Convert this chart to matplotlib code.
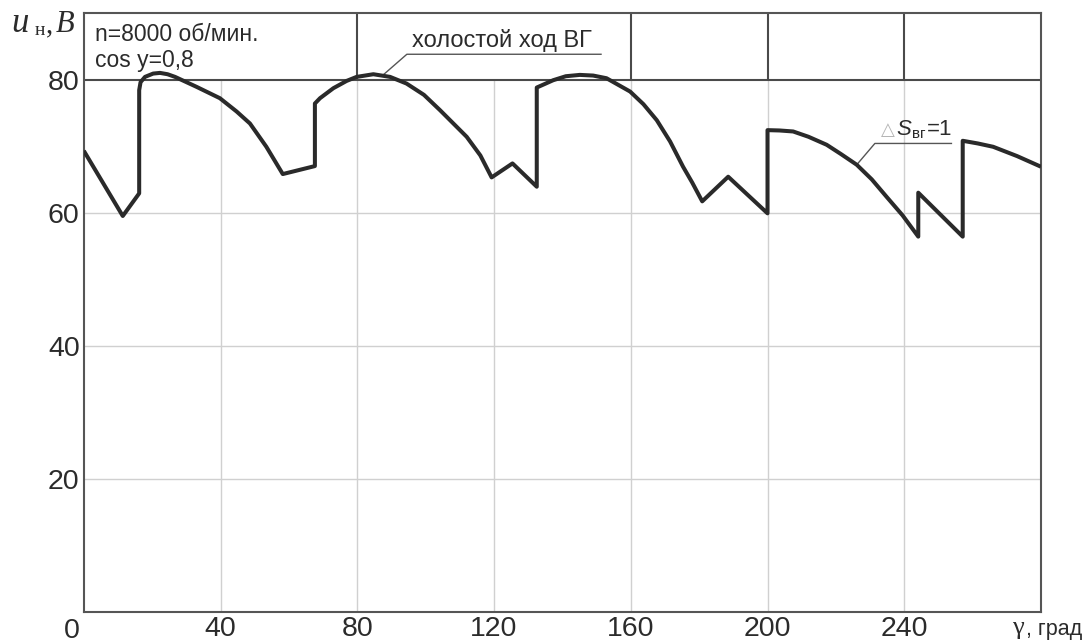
import matplotlib
matplotlib.use("Agg")
import matplotlib.pyplot as plt

# ---- data ----
gamma = [0, 11.4, 16.2, 16.2, 16.6, 17.9, 20.3, 22.3, 24.5, 26.7, 33.0, 39.8, 44.7, 48.6,
         53.4, 58.2, 67.6, 67.6, 69.1, 73.0, 76.9, 79.8, 84.7, 89.6, 94.4, 99.5,
         104.2, 112.0, 116.0, 119.3, 125.4, 132.5, 132.5, 137.3, 141.0, 145.1, 149.0,
         152.9, 159.8, 163.7, 167.6, 171.5, 175.3, 178.0, 180.9, 188.5, 200.0, 200.0,
         203.5, 207.5, 212.0, 217.3, 221.5, 226.1, 230.5, 234.8, 239.5, 244.1, 244.1,
         257.1, 257.1, 261.5, 266.0, 273.0, 280.0]
u_n = [69.3, 59.5, 62.9, 78.4, 79.6, 80.4, 80.9, 81.0, 80.8, 80.4, 78.9, 77.2, 75.2, 73.4,
       69.9, 65.8, 67.0, 76.4, 77.2, 78.7, 79.8, 80.4, 80.8, 80.4, 79.4, 77.7,
       75.4, 71.4, 68.6, 65.3, 67.4, 63.9, 78.8, 79.9, 80.5, 80.7, 80.6,
       80.2, 78.2, 76.3, 73.9, 70.7, 66.9, 64.5, 61.7, 65.4, 59.9, 72.4,
       72.35, 72.2, 71.4, 70.2, 68.8, 67.2, 65.0, 62.4, 59.6, 56.4, 63.0,
       56.4, 70.8, 70.4, 69.9, 68.5, 66.9]

x_ticks = [40, 80, 120, 160, 200, 240]
y_ticks = [20, 40, 60, 80]
table_cols = [80, 160, 200, 240]
x_max, y_max, table_y = 280, 90, 80

W, H = 1086, 642
SANS = "Liberation Sans"
SERIF = "Liberation Serif"
TXT = "#2b2b2b"

fig = plt.figure(figsize=(W / 100, H / 100), dpi=100)
ax = fig.add_axes([83.8 / W, 1 - 612 / H, (1041 - 83.8) / W, (612 - 13) / H])
ax.set_xlim(0, x_max)
ax.set_ylim(0, y_max)


def px(x, y):
    return x / W, 1 - y / H


# grid (below the table line only)
ax.vlines(x_ticks, 0, table_y, color="#d0d0d0", lw=1, zorder=1)
ax.hlines([t for t in y_ticks if t < table_y], 0, x_max, color="#d0d0d0", lw=1, zorder=1)
# table row
ax.axhline(table_y, color="#4a4a4a", lw=1.5, zorder=2)
ax.vlines(table_cols, table_y, y_max, color="#4a4a4a", lw=1.5, zorder=2)

ax.plot(gamma, u_n, color="#2a2a2a", lw=2.9, solid_joinstyle="round",
        solid_capstyle="butt", zorder=3)

for s in ax.spines.values():
    s.set_color("#555555")
    s.set_linewidth(1.5)

ax.set_xticks(x_ticks)
ax.set_yticks(y_ticks)
ax.tick_params(length=0, labelsize=20.5, labelcolor=TXT)
ax.tick_params(axis="x", pad=3)
ax.tick_params(axis="y", pad=3)
for lab in ax.get_xticklabels() + ax.get_yticklabels():
    lab.set_family(SANS)

# origin label
fig.text(*px(72, 638), "0", fontsize=20.5, family=SANS, color=TXT, ha="center", va="baseline")

# axis labels
fig.text(*px(1082, 635), ", град", fontsize=15.5, family=SANS, color=TXT, ha="right", va="baseline")
fig.text(*px(1012, 634), "γ", fontsize=19, family=SERIF, color=TXT, ha="left", va="baseline")

fig.text(*px(11, 32), "u", fontsize=25, family=SERIF, style="italic", color=TXT, va="baseline")
fig.text(*px(35, 35), "н", fontsize=14, family=SERIF, color=TXT, va="baseline")
fig.text(*px(46, 32), ",", fontsize=21, family=SERIF, color=TXT, va="baseline")
fig.text(*px(56, 32), "B", fontsize=22, family=SERIF, style="italic", color=TXT, va="baseline")

# table texts
fig.text(*px(95, 41), "n=8000 об/мин.", fontsize=16.5, family=SANS, color=TXT, va="baseline")
fig.text(*px(95, 66.5), "cos y=0,8", fontsize=16.5, family=SANS, color=TXT, va="baseline")

# annotation: no-load
ax.plot([87.8, 94.5, 151.3], [80.8, 83.8, 83.8], color="#555555", lw=1, zorder=2)
fig.text(*px(412, 46.5), "холостой ход ВГ", fontsize=17, family=SANS, color=TXT, va="baseline")

# annotation: delta S
ax.plot([226.1, 231.4, 253.8], [67.2, 70.4, 70.4], color="#555555", lw=1, zorder=2)
fig.text(*px(881, 135), "△", fontsize=13, family="DejaVu Sans", color="#b5b5b5", va="baseline")
fig.text(*px(896, 135), "S", fontsize=16, family=SANS, style="italic", color=TXT, va="baseline")
fig.text(*px(912, 138.5), "вг", fontsize=11, family=SANS, color=TXT, va="baseline")
fig.text(*px(927, 135), "=1", fontsize=16, family=SANS, color=TXT, va="baseline")

fig.savefig("out.png", dpi=100, facecolor="white")
